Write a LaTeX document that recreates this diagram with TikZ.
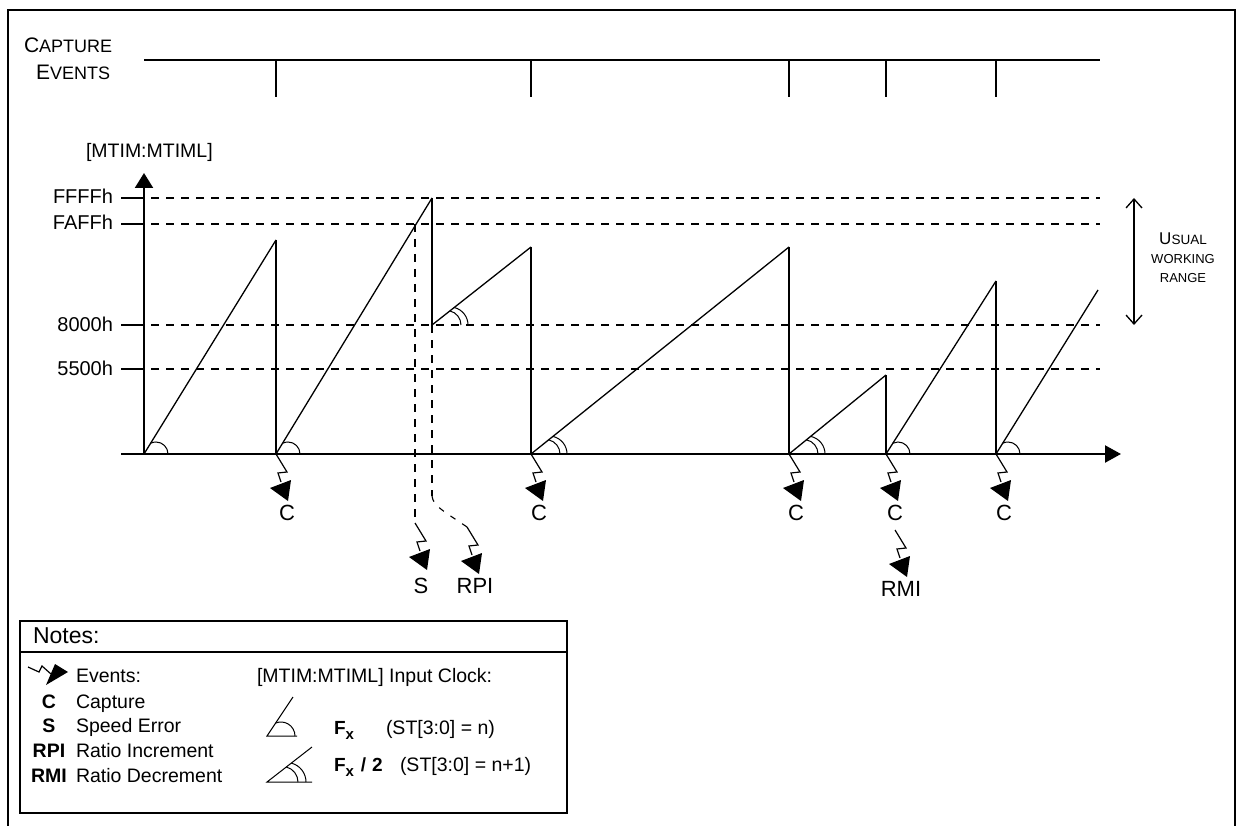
\documentclass[tikz,border=0pt]{standalone}
\usepackage{fontspec}
\setmainfont{Liberation Sans}
\usetikzlibrary{arrows.meta}
\newcommand\myfs[1]{\fontsize{#1}{#1}\selectfont}
\begin{document}
\begin{tikzpicture}[x=1pt,y=-1pt,
  every node/.style={inner sep=0pt, outer sep=0pt},
  frameline/.style={line width=2pt},
  axisline/.style={line width=2.2pt},
  ramp/.style={line width=1.3pt},
  drop/.style={line width=2pt},
  guide/.style={line width=2pt, dash pattern=on 8pt off 7pt},
  vguide/.style={line width=2pt, dash pattern=on 8pt off 7pt},
  thinguide/.style={line width=1.1pt, dash pattern=on 6pt off 8pt},
  evtick/.style={line width=1.6pt},
  arcmark/.style={line width=1pt},
  evlabel/.style={font=\myfs{22}, anchor=base},
  ylabel/.style={font=\myfs{20}, anchor=base east},
  legtext/.style={font=\myfs{19.5}, anchor=base west},
  legkey/.style={font=\myfs{19.5}\bfseries, anchor=base},
  fxtext/.style={font=\myfs{19}\bfseries, anchor=base west},
  rangetext/.style={anchor=base},
  pics/bolt/.style={code={
    \draw[line width=1.2pt, line join=miter] (0,0) -- (11,18) -- (2,19) -- (5,28);
    \fill (-6,34) -- (15,26) -- (12,47) -- cycle;
  }},
]
\useasboundingbox (0,0) rectangle (1239,826);

% outer frame
\coordinate (F1) at (8,826); \coordinate (F2) at (8,10);
\coordinate (F3) at (1235,10); \coordinate (F4) at (1235,826);
\draw[frameline] (F1) -- (F2) -- (F3) -- (F4);

% capture events
\node[anchor=base west] (capA) at (24,53) {\myfs{21}C\myfs{18}APTURE};
\node[anchor=base west] (capB) at (36,80) {\myfs{21}E\myfs{18}VENTS};
\coordinate (CL) at (144,60); \coordinate (CR) at (1100,60);
\draw[evtick] (CL) -- (CR);
\foreach \xx [count=\i] in {276,531,789,886,996} {
  \coordinate (ct\i) at (\xx,60); \coordinate (cb\i) at (\xx,97);
  \draw[evtick] (ct\i) -- (cb\i);
}

% axes
\node[anchor=base west, font=\myfs{19.5}] (ytitle) at (86,158) {[MTIM:MTIML]};
\coordinate (O) at (144,454);
\coordinate (Ytop) at (144,173);
\coordinate (Xl) at (121,454);
\coordinate (Xr) at (1121,454);

% levels
\foreach \lab/\yy/\nm in {FFFFh/198/a, FAFFh/224/b, 8000h/325/c, 5500h/369/d} {
  \coordinate (t\nm) at (121,\yy); \coordinate (a\nm) at (144,\yy);
  \coordinate (g\nm) at (151,\yy); \coordinate (e\nm) at (1100,\yy);
  \draw[axisline] (t\nm) -- (a\nm);
  \draw[guide] (g\nm) -- (e\nm);
  \node[ylabel] (l\nm) at (113,\yy+6) {\lab};
}

\draw[axisline,-{Triangle[length=15pt,width=18pt]}] (O) -- (Ytop);
\draw[axisline,-{Triangle[length=16pt,width=17pt]}] (Xl) -- (Xr);

% sawtooth
\coordinate (r1t) at (276,240); \coordinate (r1b) at (276,454);
\coordinate (r2t) at (432,198); \coordinate (r3s) at (432,325);
\coordinate (r3t) at (531,247); \coordinate (r3b) at (531,454);
\coordinate (r4t) at (789,247); \coordinate (r4b) at (789,454);
\coordinate (r5t) at (886,375); \coordinate (r5b) at (886,454);
\coordinate (r6t) at (996,281); \coordinate (r6b) at (996,454);
\coordinate (r7t) at (1098,290);
\draw[ramp] (O) -- (r1t);
\draw[drop] (r1t) -- (r1b);
\draw[ramp] (r1b) -- (r2t);
\draw[drop] (r2t) -- (r3s);
\draw[ramp] (r3s) -- (r3t);
\draw[drop] (r3t) -- (r3b);
\draw[ramp] (r3b) -- (r4t);
\draw[drop] (r4t) -- (r4b);
\draw[ramp] (r4b) -- (r5t);
\draw[drop] (r5t) -- (r5b);
\draw[ramp] (r5b) -- (r6t);
\draw[drop] (r6t) -- (r6b);
\draw[ramp] (r6b) -- (r7t);

% angle marks
\draw[arcmark] ([xshift=24pt]O) arc[start angle=0,end angle=116.6,radius=12pt];
\draw[arcmark] ([xshift=24pt]r1b) arc[start angle=0,end angle=117.2,radius=12pt];
\draw[arcmark] ([xshift=24pt]r5b) arc[start angle=0,end angle=115.6,radius=12pt];
\draw[arcmark] ([xshift=24pt]r6b) arc[start angle=0,end angle=116.2,radius=12pt];
\foreach \pt/\ang in {r3s/76.4, r3b/77.4, r4b/78.4} {
  \draw[arcmark] ([xshift=29pt]\pt) arc[start angle=0,end angle=\ang,radius=14.5pt];
  \draw[arcmark] ([xshift=36pt]\pt) arc[start angle=0,end angle=\ang,radius=18pt];
}

% event bolts
\pic at (r1b) {bolt};
\pic at (r3b) {bolt};
\pic at (r4b) {bolt};
\pic at (r5b) {bolt};
\pic at (r6b) {bolt};
\node[evlabel] (c1) at (287,520) {C};
\node[evlabel] (c2) at (539,520) {C};
\node[evlabel] (c3) at (796,520) {C};
\node[evlabel] (c4) at (895,520) {C};
\node[evlabel] (c5) at (1004,520) {C};

% speed error
\coordinate (sTop) at (415,224); \coordinate (sBot) at (415,523);
\draw[vguide] (sTop) -- (sBot);
\pic at (sBot) {bolt};
\node[evlabel] (sl) at (421,593) {S};

% ratio increment
\coordinate (pTop) at (432,325); \coordinate (pMid) at (432,496); \coordinate (pBot) at (467,527);
\draw[vguide] (pTop) -- (pMid);
\draw[thinguide] (pMid) .. controls (433,506) and (445,512) .. (pBot);
\pic at (pBot) {bolt};
\node[evlabel] (rpi) at (475,593) {RPI};

% ratio decrement
\coordinate (mTop) at (895,530);
\pic at (mTop) {bolt};
\node[evlabel] (rmi) at (901,596) {RMI};

% usual working range
\coordinate (uT) at (1134,198); \coordinate (uB) at (1134,325);
\draw[line width=1.3pt, {Straight Barb[length=9pt,width=16pt]}-{Straight Barb[length=9pt,width=16pt]}] (uT) -- (uB);
\node[rangetext] (u1) at (1183,245) {\myfs{17}U\myfs{13.5}SUAL};
\node[rangetext] (u2) at (1183,264) {\myfs{13}WORKING};
\node[rangetext] (u3) at (1183,283) {\myfs{13}RANGE};

% notes box
\coordinate (nTL) at (20,621); \coordinate (nBR) at (567,813);
\draw[frameline] (nTL) rectangle (nBR);
\coordinate (nhL) at (20,652); \coordinate (nhR) at (567,652);
\draw[frameline] (nhL) -- (nhR);
\node[anchor=base west, font=\myfs{23}] (notes) at (33,643) {Notes:};

\coordinate (lb) at (28,667);
\draw[line width=1.2pt, line join=miter] (lb) -- ++(11,5) -- ++(3,-6) -- ++(9,8);
\fill (46,685) -- (55,664) -- (68,672) -- cycle;
\node[legtext] (ev) at (76,682) {Events:};
\node[legkey] (kC) at (49,708) {C}; \node[legtext] (dC) at (76,708) {Capture};
\node[legkey] (kS) at (49,732) {S}; \node[legtext] (dS) at (76,732) {Speed Error};
\node[legkey] (kP) at (49,757) {RPI}; \node[legtext] (dP) at (76,757) {Ratio Increment};
\node[legkey] (kM) at (49,782) {RMI}; \node[legtext] (dM) at (76,782) {Ratio Decrement};
\node[legtext] (ic) at (257,682) {[MTIM:MTIML] Input Clock:};

\coordinate (i1) at (267,736); \coordinate (i1h) at (297,736); \coordinate (i1s) at (293,697);
\draw[arcmark] (i1h) -- (i1) -- (i1s);
\draw[arcmark] ([xshift=28pt]i1) arc[start angle=0,end angle=112.6,radius=14pt];
\coordinate (i2) at (267,782); \coordinate (i2h) at (312,782); \coordinate (i2s) at (312,747);
\draw[arcmark] (i2h) -- (i2) -- (i2s);
\draw[arcmark] ([xshift=31pt]i2) arc[start angle=0,end angle=75.8,radius=15.5pt];
\draw[arcmark] ([xshift=39pt]i2) arc[start angle=0,end angle=75.8,radius=19.5pt];

\node[fxtext] (fx1) at (334,734) {F\raisebox{-5pt}{\myfs{15}x}};
\node[legtext] (st1) at (386,734) {(ST[3:0] = n)};
\node[fxtext] (fx2) at (334,771) {F\raisebox{-5pt}{\myfs{15}x}\hspace{7pt}/\hspace{6pt}2};
\node[legtext] (st2) at (400,771) {(ST[3:0] = n+1)};
\end{tikzpicture}
\end{document}
